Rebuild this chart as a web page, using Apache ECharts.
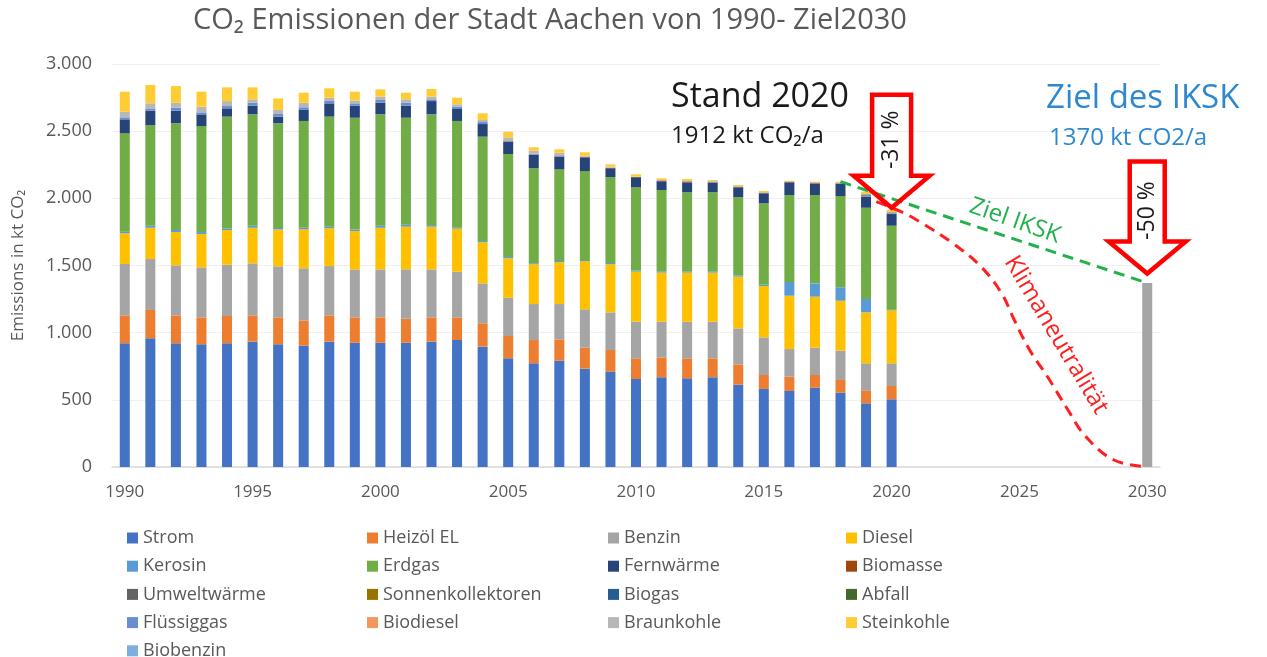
<!DOCTYPE html>
<html lang="de">
<head>
<meta charset="utf-8">
<title>CO2 Emissionen der Stadt Aachen</title>
<script src="https://cdn.jsdelivr.net/npm/echarts@6/dist/echarts.min.js"></script>
<style>
  html, body { margin: 0; padding: 0; background: #fff; }
  #main { width: 1267px; height: 657px; }
</style>
</head>
<body>
<div id="main"></div>
<script>
// Jahre (Kategorien der x-Achse)
var jahre = ['1990','1991','1992','1993','1994','1995','1996','1997','1998','1999',
             '2000','2001','2002','2003','2004','2005','2006','2007','2008','2009',
             '2010','2011','2012','2013','2014','2015','2016','2017','2018','2019',
             '2020','2021','2022','2023','2024','2025','2026','2027','2028','2029','2030'];

// Emissionen je Energieträger in kt CO2, 1990 - 2020
var strom      = [921,958,921,913,921,933,913,903,933,925,925,925,933,945,896,809,772,791,732,710,655,668,660,668,613,581,566,590,553,474,504];
var heizoel    = [208,211,208,201,203,196,201,186,196,189,189,179,181,169,174,166,173,159,156,161,154,148,149,141,151,104,106,95,95,97,99];
var benzin     = [382,379,372,372,382,387,380,390,367,357,357,367,357,340,297,285,268,263,286,280,273,266,273,273,268,280,206,203,218,201,169];
var diesel     = [229,233,248,248,258,265,275,290,281,286,310,318,318,320,306,293,296,311,359,358,372,365,365,365,385,382,397,380,372,379,394];
var kerosin    = [12,15,15,15,13,15,10,12,12,12,15,15,12,7,9,10,8,10,8,10,8,10,10,10,10,10,102,99,100,100,4];
var erdgas     = [732,748,794,789,831,829,779,795,819,831,829,796,824,795,777,767,707,682,662,638,620,605,588,588,581,606,648,658,679,679,626];
var fernwaerme = [104,108,94,87,62,65,50,82,99,90,87,90,99,89,94,92,99,94,102,67,75,65,74,72,74,74,94,82,90,82,87];
var biomasse   = [0,0,0,0,0,0,0,0,0,0,0,0,0,0,0,2,2,2,2,2,2,2,2,2,2,2,2,5,2,2,2];
var umweltwaerme = [0,0,0,0,0,0,0,0,0,0,0,0,0,0,0,0,0,0,0,0,0,0,0,0,0,1,1,1,1,1,1];
var sonnenkollektoren = [0,0,0,0,0,0,0,0,0,0,0,0,0,0,0,0,0,0,0,0,0,0,0,0,0,0,0,0,0,0,0];
var biogas     = [0,0,0,0,0,0,0,0,0,0,0,0,0,0,0,0,0,0,0,0,0,0,0,0,0,0,0,0,0,0,0];
var abfall     = [0,0,0,0,0,0,0,0,0,0,0,0,0,0,0,0,0,0,0,0,0,0,0,0,0,0,0,0,0,0,0];
var fluessiggas = [15,13,23,15,17,22,20,20,18,17,20,22,13,17,15,7,7,8,3,1,0,5,6,6,4,3,3,4,5,15,10];
var biodiesel  = [0,0,0,0,0,0,0,0,0,0,0,0,0,0,0,3,3,3,3,3,2,2,2,2,2,2,2,2,2,2,2];
var braunkohle = [42,42,37,42,37,25,30,34,24,20,25,25,20,18,15,20,20,17,5,6,0,0,0,0,0,0,0,0,0,0,0];
var steinkohle = [149,137,124,112,102,89,86,74,70,67,54,49,57,49,50,42,25,25,25,17,18,13,15,9,9,10,4,5,7,18,14];
var biobenzin  = [0,0,0,0,0,0,0,0,0,0,0,0,0,0,0,0,0,0,0,0,0,0,0,0,0,0,0,0,0,0,0];

// Ziel 2030 (IKSK)
var ziel2030 = 1370;

// Pfade: Ziel IKSK und Klimaneutralität [Jahr, kt CO2]
var zielIKSK = [[2018, 2124], [2030, 1370]];
var klimaneutral = [[2019.4,1975],[2020.5,1889],[2021.2,1814],[2022.4,1665],[2023.5,1491],
                    [2024.3,1293],[2024.8,1094],[2025.4,871],[2026.1,672],[2026.9,424],
                    [2027.6,226],[2028.7,52],[2030,2]];

var FONT = 'Open Sans';
var GRAU = '#595959';

var traeger = [
  ['Strom', strom, '#4472C4'],
  ['Heizöl EL', heizoel, '#ED7D31'],
  ['Benzin', benzin, '#A5A5A5'],
  ['Diesel', diesel, '#FFC000'],
  ['Kerosin', kerosin, '#5B9BD5'],
  ['Erdgas', erdgas, '#70AD47'],
  ['Fernwärme', fernwaerme, '#264478'],
  ['Biomasse', biomasse, '#9E480E'],
  ['Umweltwärme', umweltwaerme, '#636363'],
  ['Sonnenkollektoren', sonnenkollektoren, '#997300'],
  ['Biogas', biogas, '#255E91'],
  ['Abfall', abfall, '#43682B'],
  ['Flüssiggas', fluessiggas, '#698ED0'],
  ['Biodiesel', biodiesel, '#F1975A'],
  ['Braunkohle', braunkohle, '#B7B7B7'],
  ['Steinkohle', steinkohle, '#FFCD33'],
  ['Biobenzin', biobenzin, '#7CAFDD']
];

function auffuellen(werte) {
  var out = werte.slice();
  while (out.length < jahre.length) out.push('-');
  return out;
}

var series = traeger.map(function (t) {
  return {
    name: t[0], type: 'bar', stack: 'gesamt', barWidth: 10,
    itemStyle: { color: t[2] },
    data: auffuellen(t[1])
  };
});

var zielDaten = jahre.map(function (j) { return j === '2030' ? ziel2030 : '-'; });
series.push({ name: 'Ziel 2030', type: 'bar', stack: 'gesamt', barWidth: 10,
  itemStyle: { color: '#A5A5A5' }, data: zielDaten });

var IDX_GRUEN = series.length;
series.push({ name: 'Ziel IKSK', type: 'line', xAxisIndex: 1, symbol: 'none',
  lineStyle: { color: '#22B14C', width: 3, type: [11, 7] }, data: zielIKSK, z: 5 });
series.push({ name: 'Klimaneutralität', type: 'line', xAxisIndex: 1, symbol: 'none', smooth: 0.4,
  lineStyle: { color: '#FF1F1F', width: 3, type: [11, 7] }, data: klimaneutral, z: 5 });

var spalten = [
  ['Strom', 'Kerosin', 'Umweltwärme', 'Flüssiggas', 'Biobenzin'],
  ['Heizöl EL', 'Erdgas', 'Sonnenkollektoren', 'Biodiesel'],
  ['Benzin', 'Fernwärme', 'Biogas', 'Braunkohle'],
  ['Diesel', 'Biomasse', 'Abfall', 'Steinkohle']
];
var spaltenX = [127, 367, 608, 846];

var myChart = echarts.init(document.getElementById('main'));

myChart.setOption({
  backgroundColor: '#fff',
  animation: false,
  textStyle: { fontFamily: FONT },
  title: {
    text: 'CO₂ Emissionen der Stadt Aachen von 1990- Ziel2030',
    left: 188, top: 1,
    textStyle: { fontFamily: FONT, fontSize: 29, fontWeight: 'normal', color: GRAU }
  },
  legend: spalten.map(function (c, i) {
    return {
      data: c, orient: 'vertical', left: spaltenX[i], top: 529, height: 140, padding: 0,
      icon: 'rect', itemWidth: 11, itemHeight: 11, itemGap: 10.2,
      selectedMode: false,
      textStyle: { fontFamily: FONT, fontSize: 18, color: GRAU, lineHeight: 18 }
    };
  }),
  grid: { left: 112, right: 107, top: 64, bottom: 190 },
  xAxis: [
    {
      type: 'category', data: jahre,
      axisLine: { lineStyle: { color: '#D9D9D9', width: 1.5 } },
      axisTick: { show: false },
      axisLabel: { interval: 4, color: GRAU, fontSize: 17, margin: 17 }
    },
    { type: 'value', min: 1989.5, max: 2030.5, show: false }
  ],
  yAxis: {
    type: 'value', min: 0, max: 3000, interval: 500,
    name: 'Emissions in kt CO₂', nameLocation: 'middle', nameGap: 85,
    nameTextStyle: { fontSize: 17, color: GRAU },
    axisLine: { show: false }, axisTick: { show: false },
    axisLabel: {
      color: GRAU, fontSize: 18, margin: 20,
      formatter: function (v) { return String(v).replace(/\B(?=(\d{3})+(?!\d))/g, '.'); }
    },
    splitLine: { lineStyle: { color: '#F0F0F0' } }
  },
  series: series
});

// Pfeile und Beschriftungen
function pfeil(tip, laenge, schaft, kopf, kopfLaenge) {
  var x = tip[0], y = tip[1];
  return {
    type: 'polygon', z: 100,
    shape: { points: [
      [x - schaft, y - laenge], [x + schaft, y - laenge], [x + schaft, y - kopfLaenge],
      [x + kopf, y - kopfLaenge], [x, y], [x - kopf, y - kopfLaenge], [x - schaft, y - kopfLaenge]
    ] },
    style: { fill: 'none', stroke: '#FF0000', lineWidth: 4.5, lineJoin: 'miter' }
  };
}

var tip1 = myChart.convertToPixel({ seriesIndex: IDX_GRUEN }, [2020, 1930]);
var tip2 = myChart.convertToPixel({ seriesIndex: IDX_GRUEN }, [2030, 1440]);

myChart.setOption({
  graphic: [
    { type: 'text', left: 671, top: 80, z: 100,
      style: { text: 'Stand 2020', font: '34px "' + FONT + '"', fill: '#1a1a1a' } },
    { type: 'text', left: 671, top: 124, z: 100,
      style: { text: '1912 kt CO₂/a', font: '24px "' + FONT + '"', fill: '#1a1a1a' } },
    { type: 'text', left: 1046, top: 82, z: 100,
      style: { text: 'Ziel des IKSK', font: '33px "' + FONT + '"', fill: '#2E88D0' } },
    { type: 'text', left: 1049, top: 126, z: 100,
      style: { text: '1370 kt CO2/a', font: '24px "' + FONT + '"', fill: '#2E88D0' } },
    pfeil(tip1, 113, 19.5, 38, 32),
    pfeil(tip2, 112, 17.5, 38.5, 32),
    { type: 'text', x: tip1[0], y: tip1[1] - 68, rotation: Math.PI / 2, z: 101,
      style: { text: '-31 %', font: '23px "' + FONT + '"', fill: '#1a1a1a', align: 'center', verticalAlign: 'middle' } },
    { type: 'text', x: tip2[0], y: tip2[1] - 63, rotation: Math.PI / 2, z: 101,
      style: { text: '-50 %', font: '23px "' + FONT + '"', fill: '#1a1a1a', align: 'center', verticalAlign: 'middle' } },
    { type: 'text', x: 1015, y: 221, rotation: -0.34, z: 101,
      style: { text: 'Ziel IKSK', font: '24px "' + FONT + '"', fill: '#22B14C', align: 'center', verticalAlign: 'middle' } },
    { type: 'text', x: 1056, y: 335, rotation: -1.03, z: 101,
      style: { text: 'Klimaneutralität', font: '24px "' + FONT + '"', fill: '#FF1F1F', align: 'center', verticalAlign: 'middle' } }
  ]
});
</script>
</body>
</html>
